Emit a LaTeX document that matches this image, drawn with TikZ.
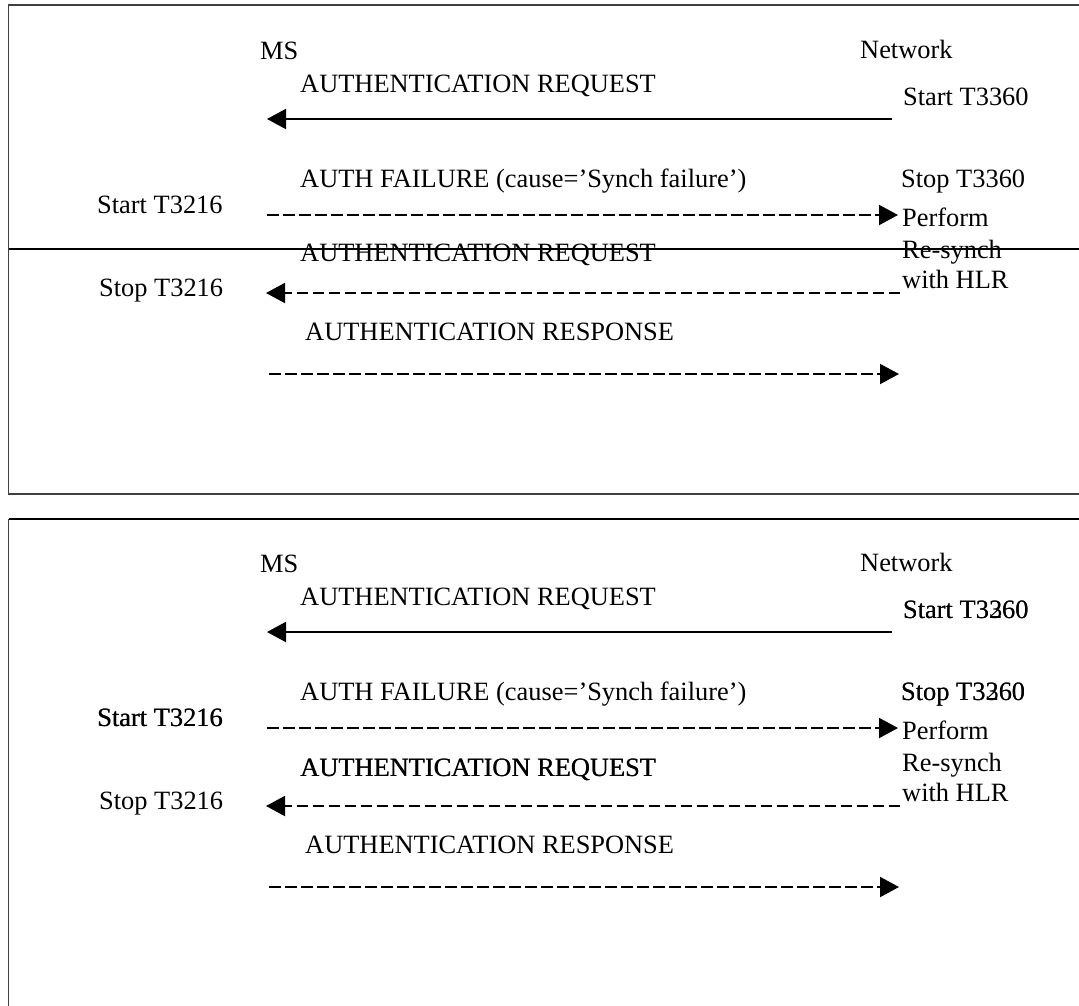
\documentclass[tikz,border=0pt]{standalone}
\usepackage{fontspec}
\setmainfont{Liberation Serif}
\usetikzlibrary{arrows.meta}
\tikzset{
  lbl/.style={inner sep=0pt, anchor=base west, font=\fontsize{26.4}{31}\selectfont},
  frame/.style={line width=1.2pt, draw=black!75},
  sep/.style={line width=1.7pt},
  msg/.style={line width=2pt, -{Triangle[length=19pt,width=20pt]}},
  dmsg/.style={msg, dash pattern=on 11.5pt off 4.5pt},
  dline/.style={line width=2pt, dash pattern=on 11.5pt off 4.5pt},
}
\begin{document}
\begin{tikzpicture}[x=1pt,y=-1pt]
\useasboundingbox (0,0) rectangle (1079,1005);
% ---------- top panel ----------
\draw[frame] (1079,5) -- (8.5,5) -- (8.5,494) -- (1079,494);
\draw[sep] (8.5,249) -- (1079,249);
\node[lbl] (ms1) at (260,59) {MS};
\node[lbl] (nw1) at (860,58) {Network};
\node[lbl] (req1) at (300,92) {AUTHENTICATION REQUEST};
\node[lbl] (st1) at (903,105) {Start T3360};
\coordinate (a1s) at (892,119);
\coordinate (a1e) at (267,119);
\draw[msg] (a1s) -- (a1e);
\node[lbl] (fail1) at (300,187) {AUTH FAILURE (cause=’Synch failure’)};
\node[lbl] (sp1) at (901,187) {Stop T3360};
\node[lbl] (stt1) at (97,213) {Start T3216};
\coordinate (a2s) at (267,215);
\coordinate (a2e) at (898,215);
\draw[dmsg] (a2s) -- (a2e);
\node[lbl] (pf1) at (902,226) {Perform};
\node[lbl] (rs1) at (902,258) {Re-synch};
\node[lbl] (hlr1) at (902,288) {with HLR};
\node[lbl] (req1b) at (300,261) {AUTHENTICATION REQUEST};
\node[lbl] (spt1) at (99,296) {Stop T3216};
\coordinate (a3s) at (900,293);
\coordinate (a3e) at (266,293);
\draw[dmsg] (a3s) -- (a3e);
\node[lbl] (resp1) at (305,340) {AUTHENTICATION RESPONSE};
\coordinate (a4s) at (269,374);
\coordinate (a4e) at (899,374);
\draw[dmsg] (a4s) -- (a4e);
% ---------- bottom panel ----------
\begin{scope}[yshift=-513pt]
\draw[sep] (1079,6) -- (8.5,6);
\draw[frame] (8.5,6) -- (8.5,495);
\node[lbl] (ms2) at (260,59) {MS};
\node[lbl] (nw2) at (860,58) {Network};
\node[lbl] (req2) at (300,92) {AUTHENTICATION REQUEST};
\node[lbl] (st2) at (903,105) {Start T3360};
\node[lbl] (st2b) at (903,105) {Start T3260};
\coordinate (b1s) at (892,119);
\coordinate (b1e) at (267,119);
\draw[msg] (b1s) -- (b1e);
\node[lbl] (fail2) at (300,187) {AUTH FAILURE (cause=’Synch failure’)};
\node[lbl] (sp2) at (901,187) {Stop T3360};
\node[lbl] (sp2b) at (901,187) {Stop T3260};
\node[lbl] (stt2) at (97,213) {Start T3216};
\node[lbl] (stt2b) at (97.4,213) {Start T3216};
\coordinate (b2s) at (267,215);
\coordinate (b2e) at (898,215);
\draw[dmsg] (b2s) -- (b2e);
\node[lbl] (pf2) at (902,226) {Perform};
\node[lbl] (rs2) at (902,258) {Re-synch};
\node[lbl] (hlr2) at (902,288) {with HLR};
\node[lbl] (req2b) at (300,263) {AUTHENTICATION REQUEST};
\node[lbl] (req2c) at (300.4,263) {AUTHENTICATION REQUEST};
\node[lbl] (spt2) at (99,296) {Stop T3216};
\coordinate (b3s) at (900,293);
\coordinate (b3e) at (266,293);
\draw[dmsg] (b3s) -- (b3e);
\node[lbl] (resp2) at (305,340) {AUTHENTICATION RESPONSE};
\coordinate (b4s) at (269,374);
\coordinate (b4e) at (899,374);
\draw[dmsg] (b4s) -- (b4e);
\end{scope}
\end{tikzpicture}
\end{document}
